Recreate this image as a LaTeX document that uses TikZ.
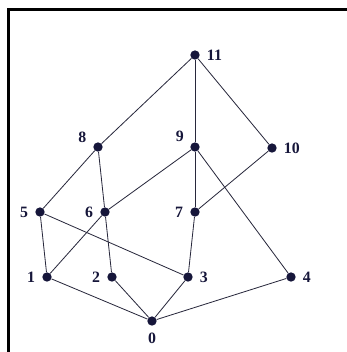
\documentclass[tikz,border=0pt]{standalone}
\usepackage{fontspec}
\setmainfont{Liberation Serif}
\usepackage{tikz}
\usetikzlibrary{positioning}
\usepackage{xcolor}
\definecolor{navy}{RGB}{22,22,58}
\definecolor{edgegray}{RGB}{40,40,60}

\begin{document}
\begin{tikzpicture}[
    x=0.03cm, y=-0.03cm,
    vertex/.style={circle, fill=navy, inner sep=0pt, minimum size=0.28cm},
    lbl/.style={font=\fontsize{13.5}{15}\selectfont\bfseries, text=navy, inner sep=1pt},
    every label/.style={lbl},
    label distance=0.17cm,
    edge/.style={draw=edgegray, line width=0.7pt}
]
    \useasboundingbox (0,0) rectangle (347,352);
    % Frame
    \draw[line width=0.09cm] (8.5,352) -- (8.5,9.5) -- (347,9.5);

    % Top
    \node[vertex, label=right:11] (n11) at (195,55) {};

    % Middle rows
    \node[vertex, label=165:8] (n8) at (98,147) {};
    \node[vertex, label=160:9] (n9) at (195,147) {};
    \node[vertex, label=right:10] (n10) at (272,148) {};
    \node[vertex, label=left:5] (n5) at (40,212) {};
    \node[vertex, label=left:6] (n6) at (105,212) {};
    \node[vertex, label=left:7] (n7) at (195,212) {};
    \node[vertex, label=left:1] (n1) at (47,277) {};
    \node[vertex, label=left:2] (n2) at (112,277) {};
    \node[vertex, label=right:3] (n3) at (188,277) {};
    \node[vertex, label=right:4] (n4) at (291,277) {};

    % Bottom
    \node[vertex, label=below:0] (n0) at (152,321) {};

    % Edges
    \draw[edge] (n11) -- (n8);
    \draw[edge] (n11) -- (n9);
    \draw[edge] (n11) -- (n10);
    \draw[edge] (n8) -- (n5);
    \draw[edge] (n8) -- (n6);
    \draw[edge] (n9) -- (n6);
    \draw[edge] (n9) -- (n7);
    \draw[edge] (n9) -- (n4);
    \draw[edge] (n10) -- (n7);
    \draw[edge] (n5) -- (n1);
    \draw[edge] (n5) -- (n3);
    \draw[edge] (n6) -- (n1);
    \draw[edge] (n6) -- (n2);
    \draw[edge] (n7) -- (n3);
    \draw[edge] (n1) -- (n0);
    \draw[edge] (n2) -- (n0);
    \draw[edge] (n3) -- (n0);
    \draw[edge] (n4) -- (n0);
\end{tikzpicture}
\end{document}
